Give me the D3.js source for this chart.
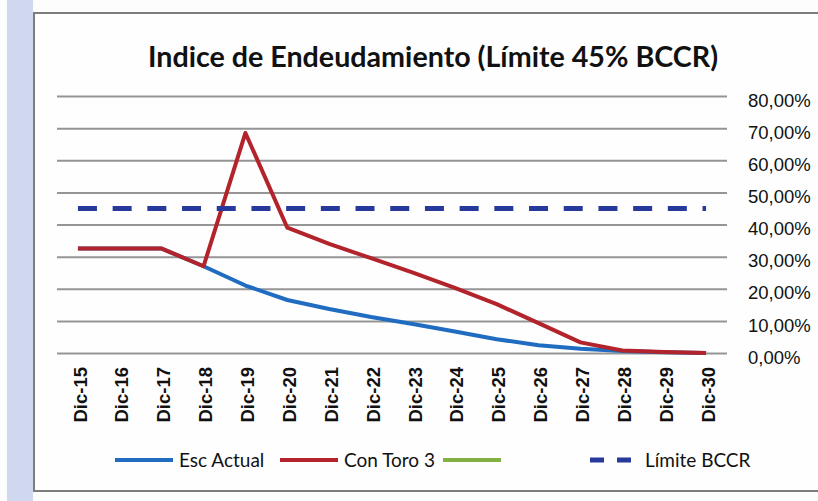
<!DOCTYPE html>
<meta charset="utf-8">
<style>
body { margin: 0; background: #fdfdfd; }
svg { font-family: Lato, "Open Sans", sans-serif; }
.grid line { stroke: #959595; stroke-width: 2; }
.grid .domain, .xax .domain, .xax line { display: none; }
.grid text { font-size: 18.5px; fill: #111; }
.xax text { font-size: 18.5px; fill: #111; font-weight: bold; }
.legend text { font-size: 19px; fill: #111; }
</style>
<svg width="818" height="501"></svg>
<script src="https://cdn.jsdelivr.net/npm/d3@7/dist/d3.min.js"></script>
<script>

// categories
var years = ["Dic-15","Dic-16","Dic-17","Dic-18","Dic-19","Dic-20","Dic-21","Dic-22",
             "Dic-23","Dic-24","Dic-25","Dic-26","Dic-27","Dic-28","Dic-29","Dic-30"];

// series (fractions)
var escActual = [0.325,0.325,0.325,0.27,0.21,0.165,0.137,0.112,0.09,0.067,0.043,0.024,0.013,0.006,0.002,0.0];
var conToro3  = [0.325,0.325,0.325,0.27,0.685,0.39,0.34,0.295,0.25,0.203,0.152,0.093,0.033,0.008,0.003,0.0];
var serie3    = []; // green series, no values
var limite    = [0.45,0.45,0.45,0.45,0.45,0.45,0.45,0.45,0.45,0.45,0.45,0.45,0.45,0.45,0.45,0.45];

var yTicks = [0,0.1,0.2,0.3,0.4,0.5,0.6,0.7,0.8];

var series = [
  {name: "Esc Actual",  values: escActual, color: "#1f6cc1", dash: null},
  {name: "Con Toro 3",  values: conToro3,  color: "#b3232b", dash: null},
  {name: "",            values: serie3,    color: "#82b043", dash: null},
  {name: "Límite BCCR", values: limite,    color: "#27399a", dash: "19,15.7"}
];

var svg = d3.select("svg");

// photo background strip + chart frame
svg.append("rect").attr("x", 7).attr("y", 0).attr("width", 26).attr("height", 501).attr("fill", "#cfd8ee");
svg.append("rect").attr("x", 34).attr("y", 13).attr("width", 800).attr("height", 478)
   .attr("fill", "#fefefe").attr("stroke", "#7d7d7d").attr("stroke-width", 2);

var pLeft = 57, pRight = 727, pTop = 96, pBottom = 353;

var x = d3.scaleBand().domain(years).range([pLeft, pRight]);
var y = d3.scaleLinear().domain([0, 0.8]).range([pBottom, pTop]);
var cx = function(d) { return x(d) + x.bandwidth() / 2; };

var fmt = function(v) { return d3.format(".2f")(v * 100).replace(".", ",") + "%"; };

// gridlines + right labels
var grid = svg.append("g").attr("class", "grid")
    .attr("transform", "translate(" + pRight + ",0)")
    .call(d3.axisRight(y).tickValues(yTicks).tickFormat(fmt)
          .tickSizeInner(-(pRight - pLeft)).tickSizeOuter(0).tickPadding(21));
grid.selectAll("text").attr("dy", "0.55em");

// category axis
var xax = svg.append("g").attr("class", "xax")
    .attr("transform", "translate(0," + pBottom + ")")
    .call(d3.axisBottom(x).tickSize(0));
xax.selectAll("text")
    .attr("transform", "rotate(-90)")
    .attr("text-anchor", "end")
    .attr("x", -14).attr("y", 2).attr("dy", "0.36em");

var line = d3.line()
    .x(function(d, i) { return cx(years[i]); })
    .y(function(d) { return y(d); });

series.forEach(function(s) {
  if (!s.values.length) return;
  svg.append("path")
     .attr("d", line(s.values))
     .attr("fill", "none")
     .attr("stroke", s.color)
     .attr("stroke-width", s.dash ? 5 : 4)
     .attr("stroke-dasharray", s.dash)
     .attr("stroke-linejoin", "round");
});

// title
svg.append("text")
   .attr("x", 433).attr("y", 67)
   .attr("text-anchor", "middle")
   .attr("font-size", 28).attr("font-weight", "bold").attr("fill", "#111")
   .attr("textLength", 570).attr("lengthAdjust", "spacingAndGlyphs")
   .text("Indice de Endeudamiento (Límite 45% BCCR)");

// legend
var legendX = [115, 280, 443, 590];
var lg = svg.append("g").attr("class", "legend").attr("transform", "translate(0,460)");
series.forEach(function(s, i) {
  var g = lg.append("g").attr("transform", "translate(" + legendX[i] + ",0)");
  g.append("line").attr("x1", 0).attr("x2", s.dash ? 44 : 58)
   .attr("stroke", s.color).attr("stroke-width", s.dash ? 5 : 4)
   .attr("stroke-dasharray", s.dash ? "14,13" : null);
  g.append("text").attr("x", s.dash ? 55 : 64).attr("dy", "0.35em").text(s.name);
});

</script>
